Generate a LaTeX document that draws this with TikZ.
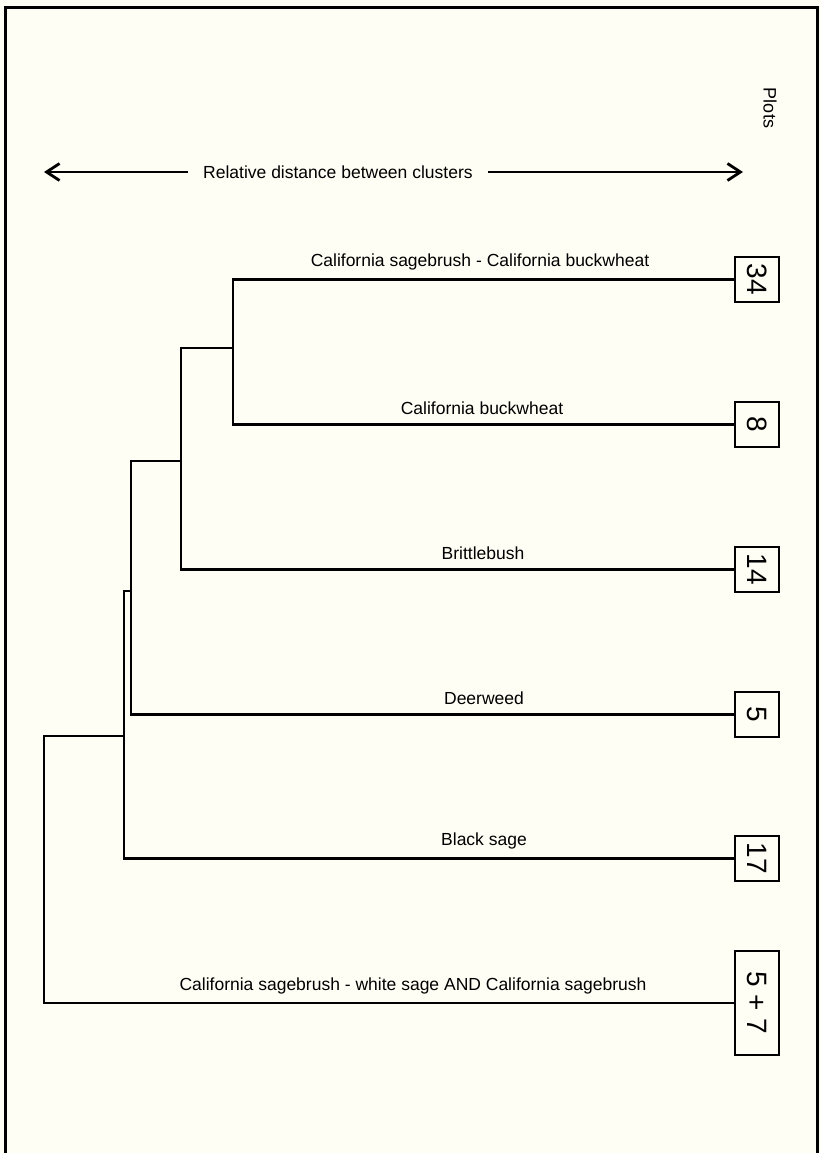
\documentclass[tikz,border=0pt]{standalone}
\usepackage{fontspec}
\setmainfont{Liberation Sans}
\usetikzlibrary{arrows.meta}
\definecolor{paper}{RGB}{254,254,245}
\begin{document}
\begin{tikzpicture}[x=1pt,y=-1pt,
  tree/.style={line width=2.8pt, line join=miter},
  leafbox/.style={draw, line width=2.8pt, minimum width=44pt, minimum height=45pt, inner sep=0pt, font=\fontsize{28}{28}\selectfont},
  leaflabel/.style={anchor=south, inner sep=0pt, font=\fontsize{17.5}{20}\selectfont},
  bigarrow/.style={line width=2.8pt, -{Straight Barb[length=13pt,width=17pt,line width=2.8pt]}}]
\useasboundingbox (0,0) rectangle (821,1153);
\fill[paper] (0,0) rectangle (821,1153);
% frame
\draw[line width=3pt] (5,1153) -- (5,8) -- (817,8) -- (817,1153);
% title and arrow
\node[rotate=-90, font=\fontsize{18}{20}\selectfont, inner sep=0pt] (plots) at (770,108) {Plots};
\coordinate (arrL) at (44,172);
\coordinate (arrR) at (743,172);
\node[anchor=west, inner xsep=15pt, inner ysep=0pt, font=\fontsize{17.5}{20}\selectfont] (title) at (188,172) {Relative distance between clusters};
\draw[bigarrow] (title.west) -- (arrL);
\draw[bigarrow] (title.east) -- (arrR);
% leaf boxes
\node[leafbox] (b34) at (757,279.5) {\rotatebox{-90}{34}};
\node[leafbox] (b8)  at (757,424.5) {\rotatebox{-90}{8}};
\node[leafbox] (b14) at (757,569.5) {\rotatebox{-90}{14}};
\node[leafbox] (b5)  at (757,714.5) {\rotatebox{-90}{5}};
\node[leafbox] (b17) at (757,858.5) {\rotatebox{-90}{17}};
\node[leafbox, minimum height=104pt] (b57) at (757,1003) {\rotatebox{-90}{5 + 7}};
% join points
\coordinate (jA) at (233,348);
\coordinate (jB) at (181,461);
\coordinate (jC) at (131,591);
\coordinate (jD) at (124,736);
\coordinate (jE) at (44,736);
% dendrogram
\draw[tree] (b34.west) -| (jA) |- (b8.west);
\draw[tree] (jA) -| (jB) |- (b14.west);
\draw[tree] (jB) -| (jC) |- (b5.west);
\draw[tree] (jC) -| (jD) |- (b17.west);
\draw[tree] (jD) -- (jE) |- (b57.west);
% labels
\node[leaflabel] (l34) at (480,270) {California sagebrush - California buckwheat};
\node[leaflabel] (l8)  at (482,415) {California buckwheat};
\node[leaflabel] (l14) at (483,560) {Brittlebush};
\node[leaflabel] (l5)  at (484,705) {Deerweed};
\node[leaflabel] (l17) at (484,849) {Black sage};
\node[leaflabel] (l57) at (413,994) {California sagebrush - white sage AND California sagebrush};
\end{tikzpicture}
\end{document}
